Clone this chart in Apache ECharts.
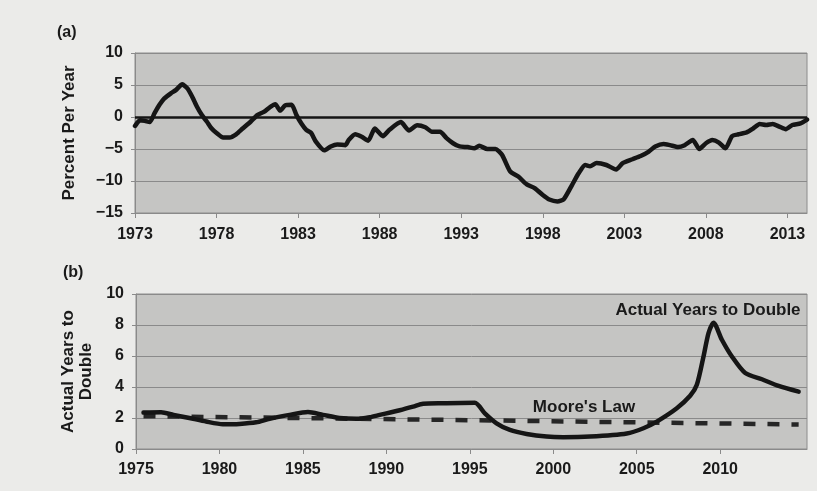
<!DOCTYPE html>
<html>
<head>
<meta charset="utf-8">
<script src="https://cdn.jsdelivr.net/npm/echarts@6/dist/echarts.min.js"></script>
<style>
  html, body { margin: 0; padding: 0; background: #ebebe9; }
  #chart { width: 817px; height: 491px; }
</style>
</head>
<body>
<div id="chart"></div>
<script>
// Panel (a): annual rate of change, percent per year
const rateYears = [
  1973.0, 1973.3, 1973.6, 1973.9, 1974.2, 1974.5, 1974.8, 1975.2, 1975.5, 1975.9,
  1976.2, 1976.5, 1976.8, 1977.1, 1977.4, 1977.7, 1978.0, 1978.4, 1978.8, 1979.2,
  1979.6, 1980.1, 1980.5, 1980.9, 1981.3, 1981.6, 1981.9, 1982.2, 1982.6, 1982.9,
  1983.2, 1983.5, 1983.8, 1984.1, 1984.6, 1985.0, 1985.4, 1985.9, 1986.1, 1986.5,
  1986.9, 1987.3, 1987.7, 1988.2, 1988.6, 1989.3, 1989.8, 1990.3, 1990.8, 1991.2,
  1991.7, 1992.1, 1992.5, 1992.9, 1993.4, 1993.8, 1994.1, 1994.6, 1995.1, 1995.5,
  1996.0, 1996.5, 1997.0, 1997.5, 1998.0, 1998.4, 1998.9, 1999.3, 1999.8, 2000.2,
  2000.6, 2000.9, 2001.3, 2001.9, 2002.5, 2002.9, 2003.5, 2004.0, 2004.5, 2004.9,
  2005.4, 2005.8, 2006.3, 2006.7, 2007.2, 2007.6, 2008.0, 2008.4, 2008.8, 2009.2,
  2009.6, 2010.0, 2010.5, 2010.9, 2011.3, 2011.7, 2012.1, 2012.5, 2012.9, 2013.3,
  2013.8, 2014.2
];
const rateValues = [
  -1.4, -0.5, -0.6, -0.8, 0.6, 1.9, 2.9, 3.7, 4.2, 5.1,
  4.5, 3.2, 1.6, 0.3, -0.7, -1.8, -2.5, -3.2, -3.2, -2.7,
  -1.8, -0.7, 0.3, 0.8, 1.6, 2.0, 1.0, 1.8, 1.9, 0.3,
  -1.0, -2.0, -2.5, -3.9, -5.2, -4.6, -4.3, -4.4, -3.6, -2.7,
  -3.1, -3.7, -1.8, -3.0, -2.0, -0.8, -2.1, -1.3, -1.6, -2.3,
  -2.3, -3.3, -4.1, -4.6, -4.7, -4.9, -4.5, -5.0, -5.0, -5.9,
  -8.5, -9.3, -10.5, -11.1, -12.2, -12.9, -13.2, -12.8, -10.6, -8.8,
  -7.5, -7.7, -7.2, -7.5, -8.2, -7.2, -6.6, -6.1, -5.4, -4.6,
  -4.2, -4.4, -4.7, -4.4, -3.6, -5.0, -4.1, -3.6, -4.0, -4.9,
  -3.0, -2.7, -2.4, -1.8, -1.1, -1.25, -1.1, -1.5, -1.9, -1.25,
  -1.0, -0.4
];
const rateTicks = [1973, 1978, 1983, 1988, 1993, 1998, 2003, 2008, 2013];

// Panel (b): actual years to double vs. Moore's Law
const doubleYears = [
  1975.45, 1976.5, 1977.25, 1978.2, 1979.2, 1980.2, 1981.2, 1982.2, 1983.0, 1984.2,
  1985.3, 1986.2, 1987.2, 1988.2, 1989.0, 1989.6, 1990.8, 1991.6, 1992.2, 1993.4,
  1995.3, 1995.9, 1996.6, 1997.4, 1998.4, 1999.6, 2000.6, 2002.2, 2004.4, 2005.4,
  2006.2, 2007.4, 2008.2, 2008.6, 2009.0, 2009.3, 2009.6, 2010.1, 2010.7, 2011.5,
  2012.5, 2013.5, 2014.7
];
const doubleValues = [
  2.35, 2.37, 2.2, 2.0, 1.77, 1.6, 1.62, 1.72, 1.95, 2.2,
  2.38, 2.2, 2.0, 1.95, 2.05, 2.2, 2.5, 2.73, 2.92, 2.95,
  2.98, 2.3, 1.66, 1.23, 0.97, 0.8, 0.76, 0.8, 1.0, 1.34,
  1.77, 2.63, 3.43, 4.14, 5.97, 7.48, 8.15, 7.05, 5.97, 4.9,
  4.5, 4.07, 3.7
];
const mooreYears = [1975.45, 1995.0, 2014.7];
const mooreValues = [2.12, 1.86, 1.58];
const doubleTicks = [1975, 1980, 1985, 1990, 1995, 2000, 2005, 2010];

const zip = (xs, ys) => xs.map((x, i) => [x, ys[i]]);
const minus = v => String(v).replace('-', '\u2212');
const plain = v => String(v);

const FONT = '"Liberation Sans", Arial, sans-serif';
const INK = '#1a1a1a';
const GRID = '#8a8a8a';
const labelStyle = { color: INK, fontFamily: FONT, fontWeight: 'bold', fontSize: 16 };
const titleStyle = { color: INK, fontFamily: FONT, fontWeight: 'bold', fontSize: 17 };

const chart = echarts.init(document.getElementById('chart'));
chart.setOption({
  backgroundColor: '#ebebe9',
  animation: false,
  grid: [
    { left: 135, top: 53, right: 10, height: 160, show: true,
      backgroundColor: '#c5c5c3', borderColor: '#8c8c8c', borderWidth: 1 },
    { left: 136, top: 294, right: 10, height: 155, show: true,
      backgroundColor: '#c5c5c3', borderColor: '#8c8c8c', borderWidth: 1 }
  ],
  xAxis: [
    { type: 'value', gridIndex: 0, min: 1973, max: 2014.2,
      axisLine: { onZero: false, lineStyle: { color: GRID } },
      axisTick: { show: true, length: 5, customValues: rateTicks, lineStyle: { color: GRID } },
      axisLabel: Object.assign({ customValues: rateTicks, margin: 14, formatter: plain }, labelStyle),
      splitLine: { show: false } },
    { type: 'value', gridIndex: 1, min: 1975, max: 2015.2,
      axisLine: { onZero: false, lineStyle: { color: GRID } },
      axisTick: { show: true, length: 5, customValues: doubleTicks, lineStyle: { color: GRID } },
      axisLabel: Object.assign({ customValues: doubleTicks, margin: 13, formatter: plain }, labelStyle),
      splitLine: { show: false } }
  ],
  yAxis: [
    { type: 'value', gridIndex: 0, min: -15, max: 10, interval: 5,
      name: 'Percent Per Year', nameLocation: 'middle', nameRotate: 90, nameGap: 57,
      nameTextStyle: titleStyle,
      axisLine: { show: true, lineStyle: { color: GRID } },
      axisTick: { show: true, length: 4, lineStyle: { color: GRID } },
      axisLabel: Object.assign({ margin: 12, formatter: minus }, labelStyle),
      splitLine: { show: true, lineStyle: { color: GRID, width: 1 } } },
    { type: 'value', gridIndex: 1, min: 0, max: 10, interval: 2,
      name: 'Actual Years to\nDouble', nameLocation: 'middle', nameRotate: 90, nameGap: 34,
      nameTextStyle: Object.assign({ lineHeight: 18 }, titleStyle),
      axisLine: { show: true, lineStyle: { color: GRID } },
      axisTick: { show: true, length: 4, lineStyle: { color: GRID } },
      axisLabel: Object.assign({ margin: 12 }, labelStyle),
      splitLine: { show: true, lineStyle: { color: GRID, width: 1 } } }
  ],
  series: [
    { name: 'Percent Per Year', type: 'line', xAxisIndex: 0, yAxisIndex: 0,
      data: zip(rateYears, rateValues), showSymbol: false, smooth: 0.2,
      lineStyle: { color: '#151515', width: 4.5, join: 'round', cap: 'round' },
      markLine: { silent: true, symbol: 'none', label: { show: false },
        lineStyle: { color: '#151515', width: 2.5, type: 'solid' },
        data: [{ yAxis: 0 }] } },
    { name: "Moore's Law", type: 'line', xAxisIndex: 1, yAxisIndex: 1,
      data: zip(mooreYears, mooreValues), showSymbol: false,
      lineStyle: { color: '#262626', width: 4.5, type: [12, 12] } },
    { name: 'Actual Years to Double', type: 'line', xAxisIndex: 1, yAxisIndex: 1,
      data: zip(doubleYears, doubleValues), showSymbol: false, smooth: 0.25,
      lineStyle: { color: '#151515', width: 4.5, join: 'round', cap: 'round' } }
  ],
  graphic: [
    { type: 'text', left: 57, top: 25, style: { text: '(a)', fill: INK, font: 'bold 16px ' + FONT } },
    { type: 'text', left: 63, top: 265, style: { text: '(b)', fill: INK, font: 'bold 16px ' + FONT } },
    { type: 'text', x: 708, y: 310, style: { text: 'Actual Years to Double', fill: INK,
      font: 'bold 17px ' + FONT, align: 'center', verticalAlign: 'middle' } },
    { type: 'text', x: 584, y: 407, style: { text: "Moore's Law", fill: INK,
      font: 'bold 17px ' + FONT, align: 'center', verticalAlign: 'middle' } }
  ]
});
</script>
</body>
</html>
